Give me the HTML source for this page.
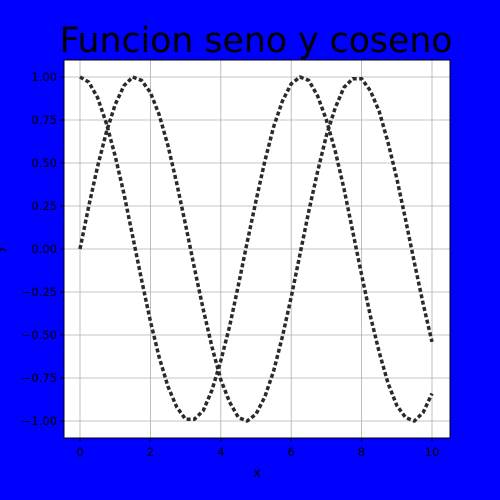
<!DOCTYPE html>
<html><head><meta charset="utf-8"><style>
html,body{margin:0;padding:0;background:#0000ff;}
svg{display:block;font-family:"DejaVu Sans","Liberation Sans",sans-serif;}
</style></head><body>
<svg id="chart" width="500" height="500" xmlns="http://www.w3.org/2000/svg">
<rect x="0" y="0" width="500" height="500" fill="#0000ff"/>
<text x="256" y="52" font-size="34.7" text-anchor="middle" fill="#000">Funcion seno y coseno</text>
<rect x="64" y="60" width="386" height="378" fill="#fff"/>
<g id="grid"></g>
<g id="series"></g>
<rect x="64" y="60" width="386" height="378" fill="none" stroke="#000" stroke-width="1"/>
<g id="ticks"></g>
<text x="257" y="477" font-size="13" text-anchor="middle" fill="#000">x</text>
<text x="3" y="249" font-size="13" text-anchor="middle" fill="#000" transform="rotate(-90 3 249)">y</text>
</svg>
<script>
const xTicks=[0,2,4,6,8,10];
const yTicks=[-1.00,-0.75,-0.50,-0.25,0.00,0.25,0.50,0.75,1.00];
const xs=[0,0.25,0.5,0.75,1,1.25,1.5,1.75,2,2.25,2.5,2.75,3,3.25,3.5,3.75,4,4.25,4.5,4.75,5,5.25,5.5,5.75,6,6.25,6.5,6.75,7,7.25,7.5,7.75,8,8.25,8.5,8.75,9,9.25,9.5,9.75,10];
const sinVals=[0,0.25,0.48,0.68,0.84,0.95,1.00,0.98,0.91,0.78,0.60,0.38,0.14,-0.11,-0.35,-0.57,-0.76,-0.89,-0.98,-1.00,-0.96,-0.86,-0.71,-0.51,-0.28,-0.03,0.22,0.45,0.66,0.82,0.94,0.99,0.99,0.92,0.80,0.62,0.41,0.17,-0.08,-0.32,-0.54];
const cosVals=[1,0.97,0.88,0.73,0.54,0.32,0.07,-0.18,-0.42,-0.63,-0.80,-0.92,-0.99,-0.99,-0.94,-0.82,-0.65,-0.45,-0.21,0.04,0.28,0.51,0.71,0.86,0.96,1.00,0.98,0.89,0.75,0.57,0.35,0.10,-0.15,-0.39,-0.60,-0.78,-0.91,-0.98,-1.00,-0.95,-0.84];
const NS="http://www.w3.org/2000/svg";
const X=v=>80+v*35.2, Y=v=>249-v*172;
const grid=document.getElementById('grid'),ticks=document.getElementById('ticks'),series=document.getElementById('series');
function mk(tag,attrs,parent){const e=document.createElementNS(NS,tag);for(const k in attrs)e.setAttribute(k,attrs[k]);parent.appendChild(e);return e;}
xTicks.forEach(t=>{
 const g=mk('line',{x1:X(t),x2:X(t),y1:60,y2:438,stroke:'#b0b0b0','stroke-width':0.8},grid);
 
 
 const tk=mk('line',{x1:X(t),x2:X(t),y1:438,y2:442,stroke:'#000'},ticks);
 
 
 const tx=mk('text',{x:X(t),y:456,'font-size':11.5,'text-anchor':'middle',fill:'#000'},ticks);
 
 
 tx.textContent=t;
});
yTicks.forEach(t=>{
 const g=mk('line',{x1:64,x2:450,y1:Y(t),y2:Y(t),stroke:'#b0b0b0','stroke-width':0.8},grid);
 
 
 const tk=mk('line',{x1:60,x2:64,y1:Y(t),y2:Y(t),stroke:'#000'},ticks);
 
 
 const tx=mk('text',{x:57,y:Y(t)+4,'font-size':11.5,'text-anchor':'end',fill:'#000'},ticks);
 
 
 tx.textContent=t.toFixed(2).replace('-','\u2212');
});
function line(vals,name){
 const p=mk('polyline',{points:xs.map((x,i)=>X(x)+','+Y(vals[i])).join(' '),fill:'none',stroke:'#2a2a2a','stroke-width':3.5,'stroke-dasharray':'4,2.5','stroke-linejoin':'round'},series);
 
 
}
line(sinVals,'sine-line');
line(cosVals,'cosine-line');
</script>
</body></html>
